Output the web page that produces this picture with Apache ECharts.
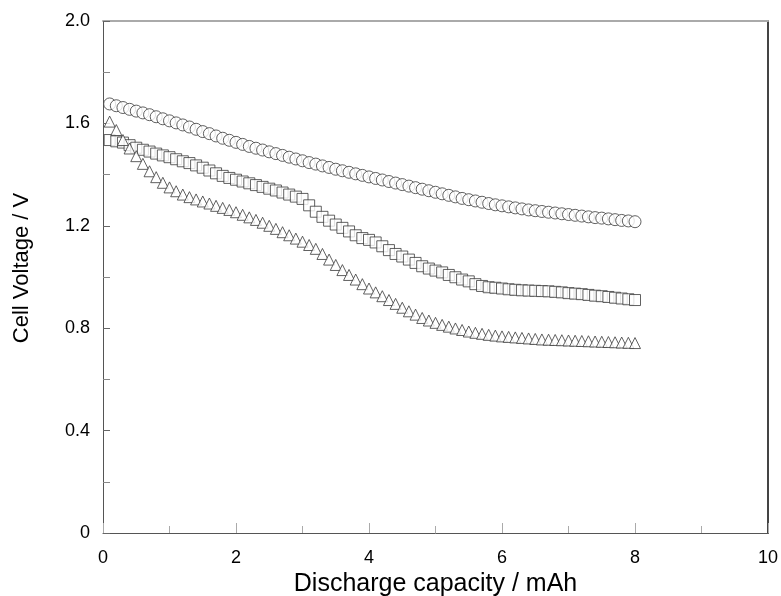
<!DOCTYPE html>
<html>
<head>
<meta charset="utf-8">
<script src="https://cdn.jsdelivr.net/npm/echarts@6/dist/echarts.min.js"></script>
<style>html,body{margin:0;padding:0;background:#fff;}#c{width:781px;height:596px;}</style>
</head>
<body>
<div id="c"></div>
<script>
var capacity = [0.1,0.2,0.3,0.4,0.5,0.6,0.7,0.8,0.9,1.0,1.1,1.2,1.3,1.4,1.5,1.6,1.7,1.8,1.9,2.0,
2.1,2.2,2.3,2.4,2.5,2.6,2.7,2.8,2.9,3.0,3.1,3.2,3.3,3.4,3.5,3.6,3.7,3.8,3.9,4.0,
4.1,4.2,4.3,4.4,4.5,4.6,4.7,4.8,4.9,5.0,5.1,5.2,5.3,5.4,5.5,5.6,5.7,5.8,5.9,6.0,
6.1,6.2,6.3,6.4,6.5,6.6,6.7,6.8,6.9,7.0,7.1,7.2,7.3,7.4,7.5,7.6,7.7,7.8,7.9,8.0];

var circleV = [1.676,1.669,1.662,1.655,1.648,1.641,1.634,1.626,1.618,1.610,1.602,1.594,1.586,1.577,1.568,1.560,1.551,1.542,1.534,1.526,
1.518,1.510,1.503,1.496,1.489,1.482,1.475,1.468,1.461,1.454,1.447,1.441,1.434,1.428,1.421,1.415,1.409,1.403,1.397,1.391,
1.385,1.379,1.373,1.367,1.361,1.355,1.349,1.343,1.337,1.331,1.325,1.319,1.313,1.307,1.302,1.297,1.292,1.287,1.282,1.278,
1.274,1.270,1.266,1.262,1.259,1.256,1.253,1.250,1.247,1.244,1.241,1.238,1.235,1.232,1.230,1.227,1.224,1.221,1.219,1.216];

var squareV = [1.535,1.530,1.525,1.515,1.505,1.497,1.490,1.482,1.475,1.468,1.460,1.452,1.445,1.436,1.427,1.416,1.405,1.395,1.387,1.380,
1.373,1.366,1.359,1.352,1.345,1.338,1.330,1.322,1.314,1.305,1.280,1.255,1.235,1.220,1.205,1.192,1.178,1.163,1.152,1.145,
1.135,1.120,1.105,1.090,1.080,1.068,1.055,1.042,1.033,1.025,1.018,1.008,0.999,0.990,0.983,0.972,0.965,0.960,0.958,0.955,
0.952,0.950,0.948,0.947,0.946,0.945,0.944,0.942,0.940,0.937,0.935,0.933,0.930,0.927,0.925,0.922,0.919,0.916,0.913,0.910];

var triangleV = [1.607,1.574,1.535,1.502,1.472,1.442,1.413,1.390,1.368,1.350,1.335,1.322,1.312,1.303,1.295,1.287,1.278,1.270,1.262,1.253,
1.243,1.233,1.223,1.212,1.200,1.188,1.175,1.163,1.150,1.138,1.125,1.110,1.090,1.068,1.047,1.027,1.008,0.990,0.972,0.955,
0.940,0.925,0.910,0.895,0.880,0.866,0.853,0.840,0.830,0.821,0.813,0.806,0.799,0.793,0.787,0.782,0.778,0.774,0.771,0.768,
0.766,0.764,0.762,0.760,0.758,0.756,0.755,0.754,0.753,0.752,0.751,0.750,0.749,0.748,0.747,0.746,0.745,0.744,0.743,0.742];

var xTickLabels = ['0','2','4','6','8','10'];
var yTickLabels = ['0','0.4','0.8','1.2','1.6','2.0'];

function pairs(ys){ return capacity.map(function(x,i){ return [x, ys[i]]; }); }

var font = 'Liberation Sans, Arial, sans-serif';
var markerStyle = { color: '#fff', borderColor: '#3a3a3a', borderWidth: 1 };

var chart = echarts.init(document.getElementById('c'), null, {renderer:'canvas'});
chart.setOption({
  animation: false,
  backgroundColor: '#fff',
  grid: { left: 103, right: 13, top: 21, bottom: 63, containLabel: false, outerBoundsMode: 'none' },
  xAxis: [{
    type: 'value', min: 0, max: 10, interval: 2,
    name: 'Discharge capacity / mAh', nameLocation: 'middle', nameGap: 37,
    nameTextStyle: { fontFamily: font, fontSize: 25, color: '#000', verticalAlign: 'top' },
    axisLine: { show: true, onZero: false, lineStyle: { color: '#555', width: 1 } },
    axisTick: { show: true, inside: true, length: 10, lineStyle: { color: '#aaa' } },
    minorTick: { show: true, splitNumber: 2, length: 7, lineStyle: { color: '#aaa' } },
    splitLine: { show: false },
    axisLabel: { fontFamily: font, fontSize: 18, color: '#000', margin: 16,
      formatter: function(v){ return xTickLabels[Math.round(v/2)]; } }
  },{
    type: 'value', min: 0, max: 10, position: 'top',
    axisLine: { show: true, onZero: false, lineStyle: { color: '#aaa', width: 2 } },
    axisTick: { show: false }, axisLabel: { show: false }, splitLine: { show: false }
  }],
  yAxis: [{
    type: 'value', min: 0, max: 2.0, interval: 0.4,
    name: 'Cell Voltage / V', nameLocation: 'middle', nameGap: 70, nameRotate: 90,
    nameTextStyle: { fontFamily: font, fontSize: 22, color: '#000', padding: [0, 0, 0, 18] },
    axisLine: { show: true, onZero: false, lineStyle: { color: '#555', width: 1 } },
    axisTick: { show: true, inside: true, length: 7, lineStyle: { color: '#666' } },
    minorTick: { show: true, splitNumber: 2, length: 7, lineStyle: { color: '#888' } },
    splitLine: { show: false },
    axisLabel: { fontFamily: font, fontSize: 18, color: '#000', margin: 13,
      formatter: function(v){ return yTickLabels[Math.round(v/0.4)]; } }
  },{
    type: 'value', min: 0, max: 2.0, position: 'right',
    axisLine: { show: true, onZero: false, lineStyle: { color: '#444', width: 2 } },
    axisTick: { show: false }, axisLabel: { show: false }, splitLine: { show: false }
  }],
  series: [
    { type: 'scatter', name: 'circle', symbol: 'circle', symbolSize: 12, data: pairs(circleV), itemStyle: markerStyle },
    { type: 'scatter', name: 'square', symbol: 'rect', symbolSize: 11, data: pairs(squareV), itemStyle: markerStyle },
    { type: 'scatter', name: 'triangle', symbol: 'triangle', symbolSize: [11, 11], data: pairs(triangleV), itemStyle: markerStyle }
  ]
});
</script>
</body>
</html>
